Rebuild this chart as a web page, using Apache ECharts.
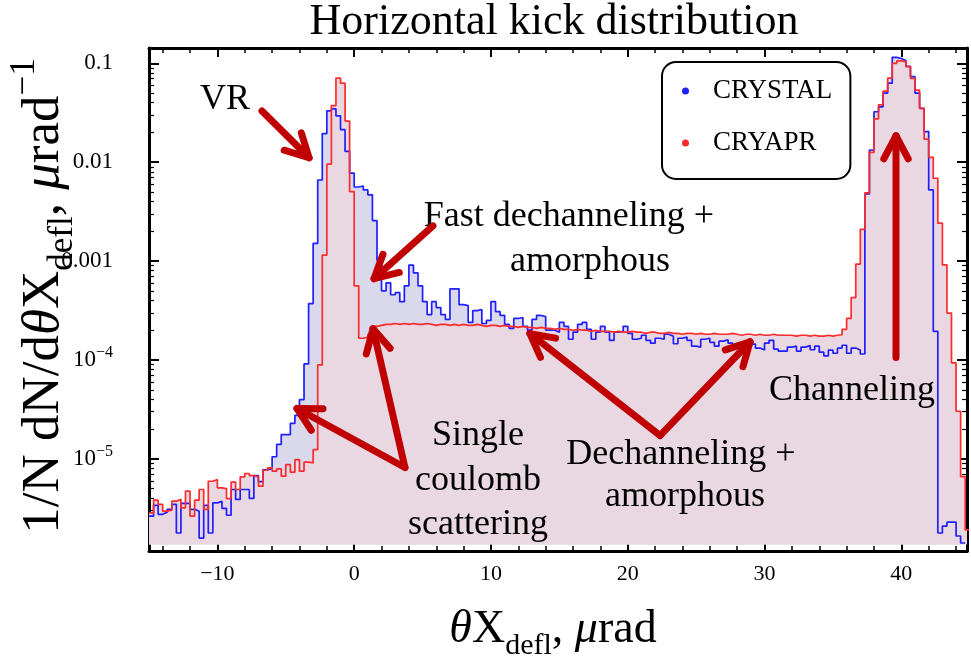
<!DOCTYPE html>
<html><head><meta charset="utf-8">
<script src="https://cdn.jsdelivr.net/npm/echarts@6/dist/echarts.min.js"></script>
<style>html,body{margin:0;padding:0;background:#fff}#c{width:971px;height:659px}</style>
</head><body><div id="c"></div>
<script>
// ---------- data ----------
const binStart = -15;
const binWidth = 1 / 3;
const seriesNames = ['CRYSTAL', 'CRYAPR'];
const crystal = [
2.63e-6,3.39e-6,2.75e-6,2.88e-6,3.09e-6,3.47e-6,1.78e-6,3.55e-6,3.55e-6,3.09e-6,
2.95e-6,1.58e-6,3.39e-6,1.78e-6,3.59e-6,3.72e-6,3.16e-6,2.69e-6,4.9e-6,3.89e-6,
4.9e-6,4.9e-6,3.98e-6,6.76e-6,5.89e-6,7.76e-6,7.94e-6,1.05e-5,1.4e-5,1.76e-5,
1.76e-5,2.29e-5,2.75e-5,3.98e-5,9.12e-5,3.72e-4,1.51e-3,6.61e-3,1.95e-2,3.31e-2,
3.47e-2,2.95e-2,2.14e-2,1.29e-2,7.76e-3,5.62e-3,5.75e-3,5.25e-3,4.68e-3,2.57e-3,
1.02e-3,5.01e-4,6.03e-4,4.57e-4,4.79e-4,3.89e-4,5.62e-4,9.12e-4,7.59e-4,5.62e-4,
3.89e-4,2.88e-4,3.89e-4,3.39e-4,2.88e-4,2.57e-4,5.25e-4,5.25e-4,3.63e-4,3.55e-4,
2.4e-4,3.16e-4,3.24e-4,2.34e-4,2.51e-4,3.89e-4,3.09e-4,2.82e-4,2.29e-4,2.09e-4,
2.63e-4,2.69e-4,2.19e-4,2.0e-4,2.57e-4,2.82e-4,2.75e-4,2.0e-4,2.0e-4,1.91e-4,
2.4e-4,2.19e-4,1.62e-4,1.91e-4,2.29e-4,2.4e-4,2.04e-4,1.62e-4,1.91e-4,2.19e-4,
1.91e-4,1.58e-4,1.91e-4,1.95e-4,2.19e-4,1.86e-4,1.62e-4,1.66e-4,1.78e-4,1.58e-4,
1.48e-4,1.66e-4,1.62e-4,1.82e-4,1.74e-4,1.46e-4,1.66e-4,1.7e-4,1.58e-4,1.38e-4,
1.35e-4,1.62e-4,1.66e-4,1.51e-4,1.38e-4,1.55e-4,1.6e-4,1.48e-4,1.4e-4,1.48e-4,
1.45e-4,1.55e-4,1.45e-4,1.32e-4,1.26e-4,1.48e-4,1.58e-4,1.29e-4,1.23e-4,1.23e-4,
1.35e-4,1.38e-4,1.23e-4,1.35e-4,1.4e-4,1.27e-4,1.38e-4,1.2e-4,1.1e-4,1.26e-4,
1.17e-4,1.32e-4,1.41e-4,1.17e-4,1.32e-4,1.26e-4,1.15e-4,4.79e-3,1.33e-2,3.24e-2,
3.63e-2,5.01e-2,6.31e-2,0.115,0.112,0.107,9.33e-2,7.33e-2,5.01e-2,3.51e-2,
2.04e-2,5.25e-3,1.95e-4,1.78e-6,2.09e-6,2.29e-6,2.29e-6,1.66e-6,1.41e-6,null
];
const cryapr = [
2.84e-6,3.82e-6,3.47e-6,2.96e-6,3.02e-6,3.73e-6,3.89e-6,3.2e-6,4.71e-6,2.64e-6,
3.82e-6,4.9e-6,3.09e-6,5.94e-6,6.17e-6,5.09e-6,5.01e-6,3.97e-6,5.81e-6,4.9e-6,
6.58e-6,7.11e-6,6.78e-6,6.58e-6,5.3e-6,7.67e-6,8.11e-6,7.5e-6,7.92e-6,6.68e-6,
8.75e-6,7.33e-6,9.84e-6,7.5e-6,9.25e-6,9.12e-6,1.24e-5,8.91e-5,1.15e-3,9.55e-3,
3.74e-2,7.1e-2,6.3e-2,2.61e-2,5.05e-3,5.62e-4,1.66e-4,1.7e-4,1.82e-4,2.19e-4,
2.24e-4,2.29e-4,2.29e-4,2.34e-4,2.29e-4,2.34e-4,2.29e-4,2.34e-4,2.29e-4,2.29e-4,
2.34e-4,2.29e-4,2.24e-4,2.29e-4,2.29e-4,2.24e-4,2.29e-4,2.24e-4,2.29e-4,2.24e-4,
2.24e-4,2.29e-4,2.24e-4,2.19e-4,2.24e-4,2.24e-4,2.19e-4,2.24e-4,2.19e-4,2.19e-4,
2.14e-4,2.19e-4,2.14e-4,2.14e-4,2.09e-4,2.14e-4,2.09e-4,2.09e-4,2.04e-4,2.09e-4,
2.04e-4,2.04e-4,2.0e-4,2.04e-4,2.0e-4,2.0e-4,1.95e-4,2.0e-4,1.95e-4,1.95e-4,
1.95e-4,1.91e-4,1.95e-4,1.91e-4,1.91e-4,1.95e-4,1.91e-4,1.91e-4,1.86e-4,1.91e-4,
1.91e-4,1.86e-4,1.86e-4,1.91e-4,1.86e-4,1.86e-4,1.82e-4,1.86e-4,1.86e-4,1.82e-4,
1.86e-4,1.82e-4,1.82e-4,1.86e-4,1.82e-4,1.82e-4,1.82e-4,1.86e-4,1.82e-4,1.78e-4,
1.82e-4,1.82e-4,1.78e-4,1.82e-4,1.78e-4,1.78e-4,1.82e-4,1.78e-4,1.78e-4,1.78e-4,
1.78e-4,1.74e-4,1.78e-4,1.78e-4,1.74e-4,1.78e-4,1.74e-4,1.74e-4,1.78e-4,1.74e-4,
1.78e-4,1.8e-4,2.04e-4,2.63e-4,4.27e-4,9.33e-4,2.09e-3,4.9e-3,1.26e-2,2.75e-2,
3.8e-2,5.25e-2,7.08e-2,0.1,0.106,0.104,9.25e-2,7.05e-2,5.37e-2,3.51e-2,
1.71e-2,1.12e-2,6.89e-3,2.42e-3,9.16e-4,2.98e-4,9.33e-5,3.03e-5,6.61e-6,1.91e-6
];
const xMajorTicks = [-10, 0, 10, 20, 30, 40];
const xMinorTicks = [-14,-12,-8,-6,-4,-2,2,4,6,8,12,14,16,18,22,24,26,28,32,34,36,38,42,44];
const yMajorTicks = [1e-5, 1e-4, 1e-3, 1e-2, 0.1];
const yMinorTicks = [2e-6,3e-6,4e-6,5e-6,6e-6,7e-6,8e-6,9e-6,
  2e-5,3e-5,4e-5,5e-5,6e-5,7e-5,8e-5,9e-5,
  2e-4,3e-4,4e-4,5e-4,6e-4,7e-4,8e-4,9e-4,
  2e-3,3e-3,4e-3,5e-3,6e-3,7e-3,8e-3,9e-3,
  2e-2,3e-2,4e-2,5e-2,6e-2,7e-2,8e-2,9e-2];
// annotations, anchored in data coordinates [theta, density]
const notes = [
  {text: 'VR', at: [-9.44, 4.27e-2]},
  {text: 'Fast dechanneling +', at: [15.7, 2.81e-3]},
  {text: 'amorphous', at: [17.24, 9.84e-4]},
  {text: 'Single', at: [9.05, 1.72e-5]},
  {text: 'coulomb', at: [9.05, 6.04e-6]},
  {text: 'scattering', at: [9.05, 2.17e-6]},
  {text: 'Dechanneling +', at: [23.89, 1.11e-5]},
  {text: 'amorphous', at: [24.18, 4.17e-6]},
  {text: 'Channeling', at: [36.39, 4.9e-5]}
];
const arrows = [
  {from: [-6.74, 3.30e-2], to: [-3.30, 1.11e-2]},
  {from: [5.76, 2.27e-3], to: [1.45, 6.64e-4]},
  {from: [3.71, 8.18e-6], to: [-4.18, 3.23e-5]},
  {from: [3.71, 8.18e-6], to: [1.38, 2.07e-4]},
  {from: [22.36, 1.72e-5], to: [12.85, 1.85e-4]},
  {from: [22.36, 1.72e-5], to: [28.94, 1.53e-4]},
  {from: [39.61, 1.06e-4], to: [39.61, 1.85e-2]}
];

// ---------- chart ----------
const FONT = "'Liberation Serif','Times New Roman',serif";
const X_MIN = -15, X_MAX = 44.8, Y_MIN = 1.17e-6, Y_MAX = 0.143, FILL_BASE = 1.36e-6;
const ARROW = '#c00000';

function stepPoints(vals) {
  const pts = []; let last = -1;
  vals.forEach((v, i) => { if (v == null) return; pts.push([binStart + i * binWidth, v]); last = i; });
  pts.push([binStart + (last + 1) * binWidth, vals[last]]);
  return pts;
}
const bluePts = stepPoints(crystal);
const redPts = stepPoints(cryapr);

const gridRect = {left: 149, right: 4, top: 48, bottom: 108};
function xAxisDef(grid, pos, major) {
  return {
    type: 'value', gridIndex: grid, position: pos, min: X_MIN, max: X_MAX,
    axisLine: {show: major, onZero: false, lineStyle: {color: '#000', width: 3}},
    axisTick: {show: true, inside: true, length: major ? 9 : 5,
      lineStyle: {color: '#000', width: major ? 2 : 1.5},
      customValues: major ? xMajorTicks : xMinorTicks},
    axisLabel: (major && pos === 'bottom') ? {
      show: true, customValues: xMajorTicks, margin: 12, fontFamily: FONT, fontSize: 22, color: '#000',
      formatter: v => (v < 0 ? '\u2212' + (-v) : String(v))
    } : {show: false},
    splitLine: {show: false}
  };
}
function yAxisDef(grid, pos, major) {
  return {
    type: 'log', logBase: 10, gridIndex: grid, position: pos, min: Y_MIN, max: Y_MAX,
    axisLine: {show: major, onZero: false, lineStyle: {color: '#000', width: 3}},
    axisTick: {show: true, inside: true, length: major ? 10 : 5,
      lineStyle: {color: '#000', width: major ? 2 : 1.2},
      customValues: major ? yMajorTicks : yMinorTicks},
    axisLabel: (major && pos === 'left') ? {
      show: true, customValues: yMajorTicks, margin: 36, color: '#000',
      formatter: v => {
        const e = Math.round(Math.log10(v));
        if (e >= -3) return '{b|' + (Math.pow(10, e)).toFixed(-e) + '}';
        return '{b|10}{s|\u2212' + (-e) + '}';
      },
      rich: {
        b: {fontFamily: FONT, fontSize: 23, lineHeight: 30, color: '#000'},
        s: {fontFamily: FONT, fontSize: 16, lineHeight: 14, verticalAlign: 'top', color: '#000'}
      }
    } : {show: false},
    splitLine: {show: false}
  };
}

const common = {type: 'line', step: 'end', symbol: 'none', showSymbol: false,
  xAxisIndex: 0, yAxisIndex: 0, silent: true, clip: true};

const option = {
  animation: false,
  textStyle: {fontFamily: FONT},
  grid: [Object.assign({}, gridRect), Object.assign({}, gridRect)],
  xAxis: [xAxisDef(0, 'bottom', true), xAxisDef(0, 'top', true), xAxisDef(1, 'bottom', false), xAxisDef(1, 'top', false)],
  yAxis: [yAxisDef(0, 'left', true), yAxisDef(0, 'right', true), yAxisDef(1, 'left', false), yAxisDef(1, 'right', false)],
  legend: {
    data: seriesNames, orient: 'vertical', left: 662, top: 62, icon: 'circle',
    itemWidth: 7, itemHeight: 7, itemGap: 20, padding: [13, 18, 20, 20],
    borderColor: '#000', borderWidth: 2, borderRadius: 14, backgroundColor: '#fff',
    selectedMode: false,
    textStyle: {fontFamily: FONT, fontSize: 27, color: '#000', lineHeight: 32, padding: [0, 0, 0, 19]}
  },
  series: [
    Object.assign({}, common, {name: 'crystal-fill', data: bluePts, z: 1,
      lineStyle: {width: 0, opacity: 0}, areaStyle: {color: '#d9d9eb', opacity: 1, origin: FILL_BASE}}),
    Object.assign({}, common, {name: 'cryapr-fill', data: redPts, z: 2,
      lineStyle: {width: 0, opacity: 0}, areaStyle: {color: '#e9d8e2', opacity: 1, origin: FILL_BASE}}),
    Object.assign({}, common, {name: seriesNames[0], data: bluePts, z: 3, color: '#1f1fff',
      lineStyle: {color: '#1f1fff', width: 1.7}}),
    Object.assign({}, common, {name: seriesNames[1], data: redPts, z: 4, color: '#ff2b2b',
      lineStyle: {color: '#ff2b2b', width: 1.7}})
  ]
};

const chart = echarts.init(document.getElementById('c'), null, {renderer: 'canvas'});
chart.setOption(option);

// ---------- annotations ----------
const px = p => chart.convertToPixel({seriesIndex: 2}, p);
const g = [];
function titleRich(big, small) {
  return {
    r: {fontFamily: FONT, fontSize: big, lineHeight: Math.round(big * 1.38), color: '#000'},
    i: {fontFamily: FONT, fontSize: big, lineHeight: Math.round(big * 1.38), fontStyle: 'italic', color: '#000'},
    sub: {fontFamily: FONT, fontSize: small, lineHeight: small, verticalAlign: 'bottom', color: '#000'},
    sup: {fontFamily: FONT, fontSize: small, lineHeight: Math.round(small * 0.92), verticalAlign: 'top', color: '#000'}
  };
}
g.push({type: 'text', x: 554, y: 22, z: 100, style: {
  text: 'Horizontal kick distribution', fontFamily: FONT, fontSize: 44, fill: '#000',
  align: 'center', verticalAlign: 'middle', textAlign: 'center', textVerticalAlign: 'middle'}});
g.push({type: 'text', x: 553, y: 630, z: 100, style: {
  text: '{i|\u03B8}{r|X}{sub|defl}{r|, }{i|\u03BC}{r|rad}', rich: titleRich(46, 30),
  align: 'center', verticalAlign: 'middle', textAlign: 'center', textVerticalAlign: 'middle'}});
g.push({type: 'text', x: 44, y: 296, rotation: Math.PI / 2, z: 100, style: {
  text: '{r|1/N dN/d}{i|\u03B8}{r|X}{sub|defl}{r|, }{i|\u03BC}{r|rad}{sup|\u22121}', rich: titleRich(53, 35),
  align: 'center', verticalAlign: 'middle', textAlign: 'center', textVerticalAlign: 'middle'}});

notes.forEach(n => {
  const p = px(n.at);
  g.push({type: 'text', x: p[0], y: p[1], z: 50, style: {
    text: n.text, fontFamily: FONT, fontSize: 36, fill: '#000',
    align: 'center', verticalAlign: 'middle', textAlign: 'center', textVerticalAlign: 'middle'}});
});
arrows.forEach(a => {
  const t = px(a.from), h = px(a.to);
  const dx = t[0] - h[0], dy = t[1] - h[1], len = Math.hypot(dx, dy);
  const ux = dx / len, uy = dy / len, ang = 28 * Math.PI / 180, L = 26;
  const leg = s => [h[0] + L * (ux * Math.cos(s * ang) - uy * Math.sin(s * ang)),
                    h[1] + L * (ux * Math.sin(s * ang) + uy * Math.cos(s * ang))];
  const st = {stroke: ARROW, lineWidth: 7, lineCap: 'round', lineJoin: 'round', fill: null};
  g.push({type: 'polyline', z: 60, shape: {points: [t, h]}, style: st});
  g.push({type: 'polyline', z: 60, shape: {points: [leg(1), h, leg(-1)]}, style: Object.assign({}, st)});
});
chart.setOption({graphic: {elements: g}});
</script></body></html>
